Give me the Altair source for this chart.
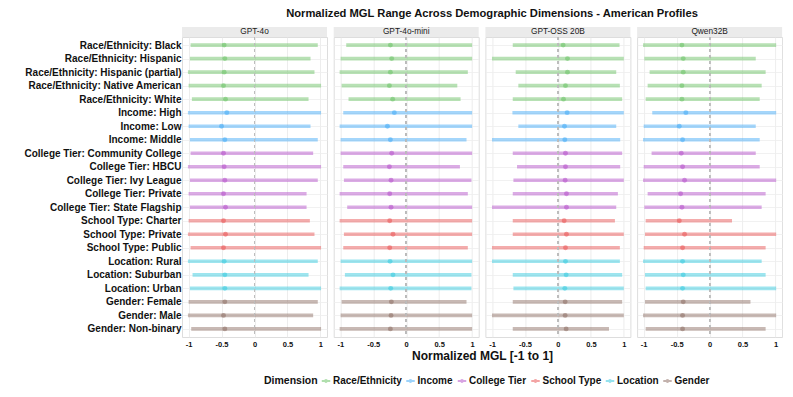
import altair as alt
import pandas as pd

labels = [
    "Race/Ethnicity: Black", "Race/Ethnicity: Hispanic", "Race/Ethnicity: Hispanic (partial)",
    "Race/Ethnicity: Native American", "Race/Ethnicity: White",
    "Income: High", "Income: Low", "Income: Middle",
    "College Tier: Community College", "College Tier: HBCU", "College Tier: Ivy League",
    "College Tier: Private", "College Tier: State Flagship",
    "School Type: Charter", "School Type: Private", "School Type: Public",
    "Location: Rural", "Location: Suburban", "Location: Urban",
    "Gender: Female", "Gender: Male", "Gender: Non-binary",
]
dimensions = ["Race/Ethnicity", "Income", "College Tier", "School Type", "Location", "Gender"]
dim_colors = ["#6FC46A", "#4AAEF7", "#B757CB", "#EA5A5A", "#3CCBE0", "#917369"]
models = ["GPT-4o", "GPT-4o-mini", "GPT-OSS 20B", "Qwen32B"]
x_ticks = [-1, -0.5, 0, 0.5, 1]

gpt4o_lo = [-0.97, -0.98, -1.01, -1.0, -0.95, -1.01, -1.0, -0.98, -0.97, -1.01, -0.98,
            -1.0, -0.98, -1.0, -1.01, -0.97, -1.01, -0.94, -0.98, -1.0, -1.01, -0.96]
gpt4o_hi = [0.96, 0.85, 0.91, 1.01, 0.82, 1.01, 0.85, 0.96, 0.89, 1.01, 0.96,
            0.79, 0.79, 0.84, 0.91, 1.01, 0.96, 0.82, 1.01, 0.96, 0.89, 1.01]
gpt4o_mid = [-0.46, -0.45, -0.46, -0.47, -0.44, -0.42, -0.50, -0.45, -0.47, -0.46, -0.45,
             -0.47, -0.44, -0.47, -0.44, -0.47, -0.46, -0.45, -0.45, -0.45, -0.47, -0.45]

mini_lo = [-0.91, -0.995, -1.01, -0.98, -0.875, -0.955, -1.01, -0.995, -0.995, -0.955, -0.945,
           -1.01, -0.895, -1.01, -0.945, -0.955, -0.995, -0.93, -1.01, -0.98, -0.995, -1.01]
mini_hi = [1.0, 1.0, 0.935, 0.775, 0.825, 1.0, 1.0, 0.915, 1.0, 0.815, 0.99,
           0.935, 1.0, 1.0, 1.0, 0.935, 1.0, 0.99, 0.99, 0.915, 1.0, 1.0]
mini_mid = [-0.24, -0.22, -0.24, -0.255, -0.205, -0.18, -0.285, -0.24, -0.22, -0.255, -0.23,
            -0.25, -0.23, -0.25, -0.20, -0.25, -0.245, -0.20, -0.235, -0.225, -0.23, -0.24]

oss_lo = [-0.685, -1.0, -0.64, -0.6, -0.685, -0.69, -0.6, -1.0, -0.685, -0.62, -0.675,
          -0.685, -1.0, -0.685, -0.685, -1.0, -1.0, -0.685, -0.675, -0.685, -1.0, -0.685]
oss_hi = [0.935, 1.0, 0.885, 0.94, 0.975, 1.0, 0.885, 0.945, 0.975, 0.945, 1.0,
          0.91, 0.885, 0.865, 1.0, 0.94, 0.94, 0.975, 1.0, 0.975, 1.0, 0.775]
oss_mid = [0.08, 0.145, 0.145, 0.115, 0.085, 0.14, 0.10, 0.105, 0.115, 0.115, 0.11,
           0.13, 0.13, 0.095, 0.13, 0.115, 0.115, 0.125, 0.105, 0.11, 0.11, 0.125]

qwen_lo = [-1.01, -0.99, -0.91, -0.94, -0.97, -0.87, -1.0, -1.01, -0.88, -1.0, -1.01,
           -0.94, -0.99, -0.97, -0.98, -1.0, -1.01, -0.98, -0.97, -0.98, -1.01, -0.97]
qwen_hi = [1.01, 0.70, 0.85, 0.79, 0.76, 1.01, 0.70, 0.76, 0.70, 0.76, 1.01,
           0.85, 0.79, 0.34, 1.01, 0.85, 0.79, 0.85, 1.01, 0.62, 1.01, 0.85]
qwen_mid = [-0.42, -0.40, -0.40, -0.42, -0.42, -0.36, -0.46, -0.41, -0.43, -0.41, -0.38,
            -0.44, -0.42, -0.46, -0.38, -0.41, -0.41, -0.40, -0.41, -0.40, -0.41, -0.41]

series = {
    "GPT-4o": (gpt4o_lo, gpt4o_hi, gpt4o_mid),
    "GPT-4o-mini": (mini_lo, mini_hi, mini_mid),
    "GPT-OSS 20B": (oss_lo, oss_hi, oss_mid),
    "Qwen32B": (qwen_lo, qwen_hi, qwen_mid),
}

rows = []
for m in models:
    lo, hi, mid = series[m]
    for i, lab in enumerate(labels):
        rows.append({"model": m, "label": lab, "dimension": lab.split(":")[0],
                     "lo": lo[i], "hi": hi[i], "mid": mid[i]})
df = pd.DataFrame(rows)

FONT = "Liberation Sans"
W, H = 145, 300
STRIP = 10
GAP = 6.7

color = alt.Color(
    "dimension:N",
    scale=alt.Scale(domain=dimensions, range=dim_colors),
    legend=alt.Legend(
        title="Dimension", orient="none", direction="horizontal", titleOrient="left",
        legendX=82, legendY=339,
        symbolType="M-1,-0.24L1,-0.24L1,0.24L-1,0.24Z M-0.45,0A0.45,0.45 0 1,1 0.45,0A0.45,0.45 0 1,1 -0.45,0Z",
        symbolSize=72, symbolStrokeWidth=0, symbolOpacity=0.55,
        labelFont=FONT, labelFontSize=10, labelFontWeight="bold", labelColor="#111",
        titleFont=FONT, titleFontSize=10.5, titleFontWeight="bold", titleColor="#111",
        columnPadding=3.5, symbolOffset=0, labelOffset=2, titlePadding=3,
    ),
)


def panel(m, idx):
    d = df[df["model"] == m]
    xscale = alt.Scale(domain=[-1.1, 1.1], nice=False, zero=False)
    yscale = alt.Scale(type="point", padding=0.6)
    xaxis = alt.Axis(
        values=x_ticks, tickCount=5,
        labelExpr="toString(datum.value)",
        labelOverlap=False, labelFlush=False,
        grid=True, gridColor="#E9E9E9", gridWidth=0.8, ticks=False, domain=False,
        labelFont=FONT, labelFontSize=7.5, labelFontWeight="bold", labelColor="#111",
        labelPadding=3,
        title="Normalized MGL [-1 to 1]" if idx == 1 else None,
        titleFont=FONT, titleFontSize=12, titleFontWeight="bold", titleColor="#111",
        titleX=W + GAP / 2, titleAlign="center", titlePadding=3,
    )
    if idx == 0:
        yaxis = alt.Axis(
            title=None, ticks=False, domain=False, grid=True, gridColor="#EDEDED", gridWidth=0.8,
            labelFont=FONT, labelFontSize=10, labelFontWeight="bold", labelColor="#111",
            labelPadding=1, labelLimit=220,
        )
    else:
        yaxis = alt.Axis(
            title=None, ticks=False, domain=False, grid=True, gridColor="#EDEDED", gridWidth=0.8,
            labels=False,
        )
    base = alt.Chart(d)
    rng = base.mark_rule(strokeWidth=3.6, opacity=0.5, strokeCap="butt").encode(
        x=alt.X("lo:Q", scale=xscale, axis=xaxis),
        x2="hi:Q",
        y=alt.Y("label:N", sort=labels, scale=yscale, axis=yaxis),
        color=color,
    )
    pts = base.mark_circle(size=24, opacity=0.6).encode(
        x=alt.X("mid:Q", scale=xscale, axis=xaxis),
        y=alt.Y("label:N", sort=labels, scale=yscale, axis=yaxis),
        color=color,
    )
    zero = base.mark_rule(color="#BDBDBD", strokeDash=[3, 3], strokeWidth=0.8).encode(
        x=alt.X(datum=0, scale=xscale, axis=xaxis)
    )
    sdf = pd.DataFrame({"model": [m]})
    strip = alt.Chart(sdf).mark_rect(fill="#EBEBEB").encode(
        x=alt.value(0), x2=alt.value(W), y=alt.value(-STRIP), y2=alt.value(0)
    )
    stext = alt.Chart(sdf).mark_text(font=FONT, fontSize=8.3, color="#1a1a1a", baseline="middle").encode(
        text="model:N", x=alt.value(W / 2), y=alt.value(-STRIP / 2)
    )
    return alt.layer(rng, zero, pts, strip, stext).properties(width=W, height=H)


chart = alt.hconcat(*[panel(m, i) for i, m in enumerate(models)], spacing=GAP, bounds="flush").properties(
    title=alt.TitleParams(
        "Normalized MGL Range Across Demographic Dimensions - American Profiles",
        font=FONT, fontSize=11.2, fontWeight="bold", color="#111", anchor="middle",
        dx=89, offset=7,
    ),
    padding={"left": 15, "top": 0, "right": 0, "bottom": 0},
).configure_view(fill="#F9F9F9", stroke=None, strokeWidth=0).configure(background="white")

chart.save("out.html", embed_options={"renderer": "svg", "actions": False})
